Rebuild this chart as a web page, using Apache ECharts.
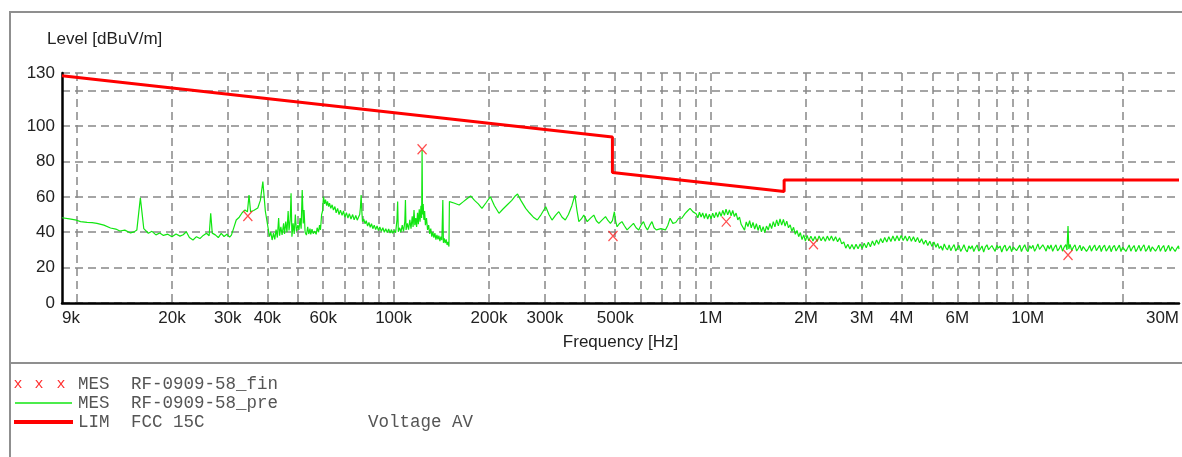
<!DOCTYPE html>
<html>
<head>
<meta charset="utf-8">
<script src="https://cdn.jsdelivr.net/npm/echarts@6/dist/echarts.min.js"></script>
<style>
html,body{margin:0;padding:0;background:#fff;}
#chart{width:1182px;height:457px;}
</style>
</head>
<body>
<div id="chart"></div>
<script>
// ---- data ----
const gridFreqsHz = [10e3,20e3,30e3,40e3,50e3,60e3,70e3,80e3,90e3,100e3,200e3,300e3,400e3,500e3,600e3,700e3,800e3,900e3,1e6,2e6,3e6,4e6,5e6,6e6,7e6,8e6,9e6,10e6,20e6];
const labelFreqsHz = [9e3,20e3,30e3,40e3,60e3,100e3,200e3,300e3,500e3,1e6,2e6,3e6,4e6,6e6,10e6,30e6];
const levelGrid = [0,20,40,60,80,100,120,130];
const levelLabels = [0,20,40,60,80,100,130];

// FCC 15C limit [Hz, dBuV/m]
const limitLine = [[9e3,128.5],[490e3,93.8],[490e3,73.8],[1.705e6,63.0],[1.705e6,69.5],[30e6,69.5]];

// final measurements [Hz, dBuV/m]
const finalPoints = [[34.7e3,49.2],[123e3,86.9],[492e3,37.9],[1.12e6,46.0],[2.11e6,33.2],[13.4e6,27.1]];

// pre-scan trace [kHz, dBuV/m]
const preScan = [
[9,48.2],[9.5,47.5],[10,46.8],[10.3,46],[10.8,45.6],[11.2,45.4],[11.6,45],[12.2,44],[12.8,42.4],[13.3,41.8],[13.7,40.7],[14.2,41.2],[14.8,39.6],[15.2,40.2],[15.5,41.3],[15.9,59.4],[16.3,42],[16.85,39.4],[17.3,40.5],[17.8,38.5],[18.3,39.6],[18.8,38.2],[19.4,38.9],[20,37.5],[20.6,39],[21.2,37.8],[21.7,38.6],[22.2,40.3],[22.7,37],[23.3,35.6],[23.9,37.5],[24.5,36.4],[25.1,38.2],[25.7,39.4],[26.2,38],[26.5,50.7],[26.8,39.5],[27.4,38.5],[28,37],[28.6,39.4],[29.2,37.6],[29.8,38.9],[30.4,37.2],[30.8,38.4],[31.4,43],[31.9,46.9],[32.6,48.5],[33.3,51],[34,52.6],[34.6,51.5],[35,61],[35.4,51.6],[36.2,52.3],[37.3,53.7],[38,58],[38.7,68.6],[39.4,52],
[40.2,42.4],[40.6,37.5],[41,40],[41.4,35.6],[41.8,39.5],[42.2,36],[42.6,41.5],[43,37],[43.4,48],[43.7,38],[44.1,43],[44.5,38.5],[45,45],[45.3,39],[45.7,46],[46.1,40],[46.5,52],[46.8,41],[47.2,47],[47.5,62],[47.8,37.5],[48.2,45],[48.6,39],[49,50],[49.4,40.5],[49.9,44],[50.3,41.3],[50.7,48],[51.1,42],[51.5,63.9],[51.9,45],[52.2,52.6],[52.6,40],[53.1,38.4],[53.6,43],[54,39],[54.5,42],[54.8,38.8],[55.3,41.8],[55.8,39.2],[56.4,40.6],[57,38.8],[57.4,42.5],[58,40],[58.4,44],[58.8,41.3],[59.3,50],[59.7,52],
[60.1,60.1],[60.6,56],[61,58.5],[61.5,55],[61.9,57.5],[62.4,54.5],[62.8,56.5],[63.4,53.5],[64,55.5],[64.6,52.5],[65.3,54.5],[65.9,51],[66.6,53.5],[67.3,50],[68,52.5],[68.8,49.5],[69.5,52],[70.2,48.5],[71,51],[71.8,48],[72.5,50.5],[73.4,47.5],[74.3,50],[75.1,47],[76,49.5],[76.8,46.8],[77.5,48.5],[78.2,50],[78.6,54],[79,61],[79.4,52],[79.8,46],[80.5,47.5],[81.3,44.8],[82,46.5],[82.8,43.5],[83.6,45.5],[84.4,42.8],[85.2,44.8],[86,42],[86.9,44],[87.8,41.5],[88.7,43.5],[89.6,41],[90.5,43],[91.5,40.5],[92.5,42.5],[93.5,40],[94.5,42],[95.5,39.8],[96.5,41.8],[97.5,39.5],[98.5,41.5],[99.3,39.4],
[100.5,41],[101.5,39.8],[102.5,47],[103,57.3],[103.5,40.3],[104.5,42.5],[105.5,40],[106.5,44],[107.5,40.5],[108.5,46],[109,58.2],[109.5,41.3],[110.5,45],[111.5,41.5],[112.5,47],[113.5,42],[114.5,49],[115.2,43],[116,52.6],[116.7,44],[117.5,48],[118.2,43],[119,51],[119.7,44.5],[120.5,53],[121.2,46],[122,55],[122.6,48],[123,86.5],[123.4,50],[124,56],[124.6,47],[125.3,52],[126,44],[127,48],[128,41.3],[129,44],[130,39],[131,42],[132,37.5],[133,40],[134,37],[135,39.5],[136,35.8],[137,38.5],[138,36],[139,38],[140,35],[141,37.5],[142,35.5],[143,58.2],[143.6,34],[144.5,36.5],[145.5,33.8],[146.5,36],[147.5,32.8],[148.5,34.5],[149.5,31.9],
[150,57.3],[155,56.5],[161,55.4],[166,57.3],[170,58.8],[175,60.5],[180,58],[185,56],[190,53.5],[196,56.8],[202,60.1],[208,55],[215,50.7],[221,53],[228,55.4],[236,58],[242,60.5],[246,61.6],[252,58],[261,53.5],[268,51],[276,48.5],[284,46.9],[292,50],[302,54.4],[309,50],[316,46.9],[324,49.5],[332,51.6],[340,48.5],[348,46.9],[356,50],[365,55],[373,61],[379,52],[384,46],[391,47.5],[398,49.7],[408,46],[418,48],[428,49.7],[436,46.5],[444,45],[455,47],[466,48.8],[475,46.5],[483,45],[490,46.5],[497,51.6],[502,46],[507,43.1],[515,44.8],[525,46],[535,43.5],[545,41.3],[558,43.2],[571,45],[582,42.5],[593,41.3],[603,44],[614,46],[623,43],[632,41.3],[643,44],[653,46],[663,42.5],[674,41.3],[697,42],[720,41.3],[733,44],[745,47.9],[760,45],[776,45.5],[793,47.9],[811,47.9],[830,50.5],[845,52],[861,53.5],[880,51.5],
[900,50.5],[911,48.2],[922,51.3],[933,48.6],[944,50.9],[955,47.8],[967,50.6],[979,47.5],[991,50.2],[1003,47.6],[1015,50.8],[1027,48.1],[1040,51.2],[1053,48.5],[1066,51.6],[1079,49],[1092,52.4],[1105,49.5],[1118,53],[1132,49.8],[1146,52.6],[1160,49.3],[1174,52.3],[1188,48.9],[1203,50.8],[1218,47],[1233,48.6],[1248,44.5],[1263,45.5],[1279,41.2],[1295,45.8],[1311,43.2],[1327,46.5],[1343,42.5],[1360,45.5],[1377,41.8],[1394,44.8],[1411,41],[1428,44],[1446,40.2],[1464,43.2],[1482,39.8],[1500,43.5],[1519,41.2],[1538,45],[1557,42],[1576,46],[1595,43],[1615,47],[1635,43.6],[1655,47.5],[1675,44],[1696,47.2],[1717,43.5],[1738,46.3],[1760,42.5],[1782,44.2],[1804,40.5],[1826,42.8],[1849,38.8],[1872,41],[1895,37.5],[1918,39.8],[1942,35.8],[1966,38.5],[1990,35],[2015,38.2],
[2040,35.2],[2071,37.8],[2102,35],[2134,37.6],[2166,34.8],[2198,37.9],[2231,35.2],[2265,37.5],[2299,34.9],[2333,37.8],[2368,35.3],[2404,37.9],[2440,35],[2477,37.4],[2514,34.6],[2552,36.8],[2590,33.4],[2629,34.5],[2668,31],[2708,33.2],[2749,30.5],[2790,33],[2832,30.4],[2874,33.2],[2917,30.6],[2961,33.4],[3005,30.8],[3050,33.8],[3096,31.2],[3143,34.4],[3190,31.8],[3238,35],[3286,32.5],[3336,35.6],[3386,33.2],[3436,36.4],[3488,34],[3540,37],[3593,34.5],[3647,37.5],[3702,34.8],[3757,37.9],[3814,35],[3871,38],[3929,35.2],[3988,38.2],[4048,35.3],[4109,37.9],[4170,35],[4233,37.8],[4296,34.9],[4361,37.5],[4426,34.6],[4492,37],[4560,34],[4628,36.3],[4698,33.2],[4768,35.5],[4840,32.5],[4912,34.9],[4986,32],[5061,34.5],[5137,31.5],
[5200,33.6],[5262,30.8],[5325,32.2],[5389,29.8],[5454,33.4],[5519,31.2],[5585,30],[5652,32.8],[5720,29.6],[5789,31.5],[5858,33],[5929,29.4],[6000,31],[6072,32.6],[6145,29.2],[6219,30.8],[6293,32.9],[6369,30.2],[6445,28.9],[6522,32.3],[6601,30.6],[6680,32.4],[6760,29.1],[6841,31.2],[6923,32.8],[7006,29.3],[7090,30.5],[7175,32.2],[7262,28.8],[7349,31.6],[7437,32.9],[7526,30.1],[7617,29],[7708,32.5],[7801,30.7],[7894,29.2],[7989,32.6],[8085,31],[8182,32.2],[8280,28.8],[8380,31.4],[8480,32.7],[8582,29.4],[8685,30.5],[8789,32.3],[8895,29],[9002,31.7],[9110,32.8],[9219,29.6],[9330,30.4],[9442,32.7],[9555,29.1],[9670,31.3],[9786,32.9],[9903,30.2],[10022,29],[10142,32.4],[10264,30.8],[10387,32.6],[10512,29.2],[10638,31],[10766,33.4],[10895,30.3],[11026,29.4],[11158,32.9],[11292,31.2],[11427,29.3],[11565,32.6],[11703,30.5],[11844,32.8],[11986,29.2],[12130,31.4],[12275,32.9],[12423,29.5],[12572,30.7],[12723,32.8],[12875,29.3],[13030,31.6],[13186,33],[13300,30],[13400,43.5],[13480,30.5],[13600,33.1],[13763,29.6],[13928,31.5],[14095,32.9],[14264,29.4],[14436,30.8],[14609,32.7],[14784,29.5],[14962,31.9],[15141,32.8],[15323,29.2],[15507,30.6],[15693,32.5],[15881,29.3],[16072,31.3],[16265,32.8],[16460,29.6],[16657,30.4],[16857,32.6],[17059,29.1],[17264,31.5],[17471,32.7],[17681,29.3],[17893,30.7],[18108,32.5],[18325,29],[18545,31.4],[18768,32.6],[18993,29.4],[19221,30.3],[19452,32.7],[19685,29.1],[19921,31.6],[20160,32.4],[20402,29.2],[20647,30.9],[20895,32.8],[21146,29.3],[21399,31.2],[21656,32.5],[21916,29],[22179,30.6],[22445,32.6],[22715,29.4],[22987,31.5],[23263,32.9],[23542,29.2],[23825,30.4],[24111,32.5],[24400,29.1],[24693,31.7],[24989,32.6],[25289,29.3],[25592,30.8],[25899,32.7],[26210,29.2],[26525,31.3],[26843,32.5],[27165,29],[27491,30.6],[27821,32.6],[28155,29.4],[28493,31.8],[28835,32.4],[29181,29.2],[29531,30.9],[29885,32.3],[30000,30.5]
];

// ---- chart ----
const lg = Math.log10;
const fmtFreq = v => { const f = Math.round(Math.pow(10, v)); return f >= 1e6 ? (f/1e6)+'M' : (f/1e3)+'k'; };
const SANS = '"Liberation Sans", Arial, sans-serif';
const MONO = '"Liberation Mono", "Courier New", monospace';

const chart = echarts.init(document.getElementById('chart'), null, {renderer:'canvas'});
chart.setOption({
  animation: false,
  backgroundColor: '#fff',
  grid: {left: 62, right: 0, top: 73, bottom: 154, containLabel: false},
  xAxis: {
    type: 'value',
    min: lg(9e3), max: lg(30e6),
    name: 'Frequency [Hz]', nameLocation: 'middle', nameGap: 31,
    nameTextStyle: {fontFamily: SANS, fontSize: 17, color: '#222'},
    axisLine: {show: true, onZero: false, lineStyle: {color: '#000', width: 2.5}},
    axisTick: {show: false, customValues: gridFreqsHz.map(f => lg(f))},
    axisLabel: {
      customValues: labelFreqsHz.map(f => lg(f)),
      formatter: fmtFreq, margin: 7,
      fontFamily: SANS, fontSize: 17, color: '#222',
      alignMinLabel: 'left', alignMaxLabel: 'right'
    },
    splitLine: {show: true, lineStyle: {color: '#888', width: 1.5, type: [8, 5]}}
  },
  yAxis: {
    type: 'value', min: 0, max: 130,
    axisLine: {show: true, lineStyle: {color: '#000', width: 2.5}},
    axisTick: {show: false, customValues: levelGrid},
    axisLabel: {customValues: levelLabels, margin: 7, fontFamily: SANS, fontSize: 17, color: '#222'},
    splitLine: {show: true, lineStyle: {color: '#888', width: 1.5, type: [8, 5]}}
  },
  series: [
    {
      name: 'MES RF-0909-58_pre', type: 'line', showSymbol: false, symbol: 'none',
      lineStyle: {color: '#11e611', width: 1.2},
      data: preScan.map(([k, v]) => [lg(k * 1e3), v]), z: 3
    },
    {
      name: 'LIM FCC 15C', type: 'line', showSymbol: false, symbol: 'none',
      lineStyle: {color: '#ff0000', width: 3},
      data: limitLine.map(([f, v]) => [lg(f), v]), z: 4
    },
    {
      name: 'MES RF-0909-58_fin', type: 'scatter',
      symbol: 'path://M0,0L8,9M8,0L0,9', symbolSize: [9, 10],
      itemStyle: {color: 'none', borderColor: '#ff2020', borderWidth: 1.3},
      data: finalPoints.map(([f, v]) => [lg(f), v]), z: 5
    }
  ],
  graphic: [
    {type: 'rect', shape: {x: 10, y: 12, width: 1200, height: 460}, style: {fill: 'none', stroke: '#8f8f8f', lineWidth: 2}, silent: true},
    {type: 'line', shape: {x1: 10, y1: 363, x2: 1182, y2: 363}, style: {stroke: '#8f8f8f', lineWidth: 2}, silent: true},
    {type: 'text', x: 47, y: 39, style: {text: 'Level [dBuV/m]', font: '17px ' + SANS, fill: '#222', textVerticalAlign: 'middle'}},
    // legend
    {type: 'text', x: 18, y: 384, style: {text: 'x', font: '15px ' + MONO, fill: '#ff3030', textAlign: 'center', textVerticalAlign: 'middle'}},
    {type: 'text', x: 39, y: 384, style: {text: 'x', font: '15px ' + MONO, fill: '#ff3030', textAlign: 'center', textVerticalAlign: 'middle'}},
    {type: 'text', x: 61, y: 384, style: {text: 'x', font: '15px ' + MONO, fill: '#ff3030', textAlign: 'center', textVerticalAlign: 'middle'}},
    {type: 'text', x: 78, y: 384, style: {text: 'MES', font: '17.5px ' + MONO, fill: '#555', textVerticalAlign: 'middle'}},
    {type: 'text', x: 131, y: 384, style: {text: 'RF-0909-58_fin', font: '17.5px ' + MONO, fill: '#555', textVerticalAlign: 'middle'}},
    {type: 'line', shape: {x1: 15, y1: 403, x2: 72, y2: 403}, style: {stroke: '#11e611', lineWidth: 1.3}},
    {type: 'text', x: 78, y: 403, style: {text: 'MES', font: '17.5px ' + MONO, fill: '#555', textVerticalAlign: 'middle'}},
    {type: 'text', x: 131, y: 403, style: {text: 'RF-0909-58_pre', font: '17.5px ' + MONO, fill: '#555', textVerticalAlign: 'middle'}},
    {type: 'line', shape: {x1: 14, y1: 422, x2: 73, y2: 422}, style: {stroke: '#ff0000', lineWidth: 4}},
    {type: 'text', x: 78, y: 422, style: {text: 'LIM', font: '17.5px ' + MONO, fill: '#555', textVerticalAlign: 'middle'}},
    {type: 'text', x: 131, y: 422, style: {text: 'FCC 15C', font: '17.5px ' + MONO, fill: '#555', textVerticalAlign: 'middle'}},
    {type: 'text', x: 368, y: 422, style: {text: 'Voltage AV', font: '17.5px ' + MONO, fill: '#555', textVerticalAlign: 'middle'}}
  ]
});
</script>
</body>
</html>
